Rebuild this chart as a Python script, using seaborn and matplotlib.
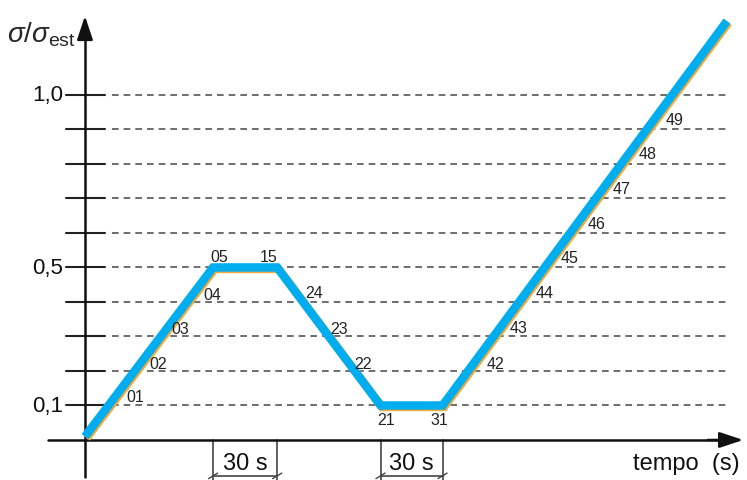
import pandas as pd
import matplotlib
matplotlib.use("Agg")
import matplotlib.pyplot as plt
import matplotlib.transforms as mtransforms
import seaborn as sns

# load path (time in s, sigma / sigma_est)
times = [0, 62, 93, 143, 173, 310.6]
ratios = [0.01, 0.5, 0.5, 0.1, 0.1, 1.214]

# step labels and where they sit
step_labels = ["01", "02", "03", "04", "05", "15", "24", "23", "22", "21",
               "31", "42", "43", "44", "45", "46", "47", "48", "49"]
label_t = [24.2, 35.3, 46.0, 61.4, 64.8, 89.0, 110.8, 122.9, 134.5, 145.6,
           171.3, 198.4, 210.0, 222.5, 234.6, 247.7, 259.8, 272.4, 285.4]
label_y = [0.125, 0.223, 0.322, 0.423, 0.533, 0.533, 0.426, 0.322, 0.223, 0.058,
           0.058, 0.223, 0.325, 0.426, 0.528, 0.626, 0.728, 0.829, 0.928]

grid_levels = [0.1, 0.2, 0.3, 0.4, 0.5, 0.6, 0.7, 0.8, 0.9, 1.0]
tick_values = [0.1, 0.5, 1.0]
tick_texts = ["0,1", "0,5", "1,0"]

# 30 s hold intervals
holds = [(62, 93), (143, 173)]
hold_text = "30 s"

sns.set_style("white")
plt.rcParams['font.family'] = ['Liberation Sans', 'DejaVu Sans']
plt.rcParams['mathtext.fontset'] = 'custom'
plt.rcParams['mathtext.rm'] = 'Liberation Sans'
plt.rcParams['mathtext.it'] = 'Liberation Sans:italic'

fig = plt.figure(figsize=(7.47, 4.81), dpi=100)
ax = fig.add_axes([0, 0, 1, 1])

# dashed levels and the short ticks crossing the axis
for lv in grid_levels:
    ax.plot([13, 311], [lv, lv], color="#555555", lw=1.2, ls=(0, (4, 3)), zorder=1)
    ax.plot([-9.2, 9.7], [lv, lv], color="#222222", lw=1.5, zorder=2)
for v, t in zip(tick_values, tick_texts):
    ax.text(-10.6, v, t, ha="right", va="center", fontsize=16, color="#111111")

# axes with arrows
arrow_style = dict(arrowstyle="-|>,head_width=0.3,head_length=0.9",
                   mutation_scale=16, color="#111111", lw=1.8)
ax.plot([0, 0], [-0.107, 1.2], color="#111111", lw=1.8, zorder=3)
ax.annotate("", xy=(0, 1.237), xytext=(0, 1.17), arrowprops=arrow_style)
ax.plot([-17.9, 315], [0, 0], color="#111111", lw=1.8, zorder=3)
ax.annotate("", xy=(319.8, 0), xytext=(300, 0), arrowprops=arrow_style)

ax.text(-37.8, 1.177, r"$\sigma/\sigma_{\mathrm{est}}$", ha="left", va="center", fontsize=20)
ax.text(265.1, -0.068, "tempo  (s)", ha="left", va="center", fontsize=17, color="#111111")

# hold markers
for a, b in holds:
    for t in (a, b):
        ax.plot([t, t], [0, -0.116], color="#444444", lw=1.2, zorder=2)
        ax.plot([t - 2.2, t + 2.2], [-0.112, -0.096], color="#444444", lw=1, zorder=2)
    ax.plot([a, b], [-0.104, -0.104], color="#444444", lw=1.2, zorder=2)
    ax.text((a + b) / 2, -0.066, hold_text, ha="center", va="center", fontsize=17, color="#111111")

# load path: thin orange edge under the blue line
df = pd.DataFrame({"t": times, "r": ratios})
shift = mtransforms.offset_copy(ax.transData, fig=fig, x=1.5, y=-1.5, units="dots")
ax.plot(df["t"], df["r"], color="#F2A93B", lw=6.1, transform=shift,
        solid_joinstyle="miter", solid_capstyle="butt", zorder=4)
sns.lineplot(data=df, x="t", y="r", sort=False, color="#00AEEF", lw=6.1, ax=ax,
             zorder=5)
line = ax.get_lines()[-1]
line.set_solid_joinstyle("miter")
line.set_solid_capstyle("butt")

for s, t, y in zip(step_labels, label_t, label_y):
    ax.text(t, y, s, ha="center", va="center", fontsize=11.5, color="#222222", zorder=6)

ax.set_xlim(-41.1, 320.3)
ax.set_ylim(-0.116, 1.278)
ax.axis("off")

fig.savefig("out.png", dpi=100)
